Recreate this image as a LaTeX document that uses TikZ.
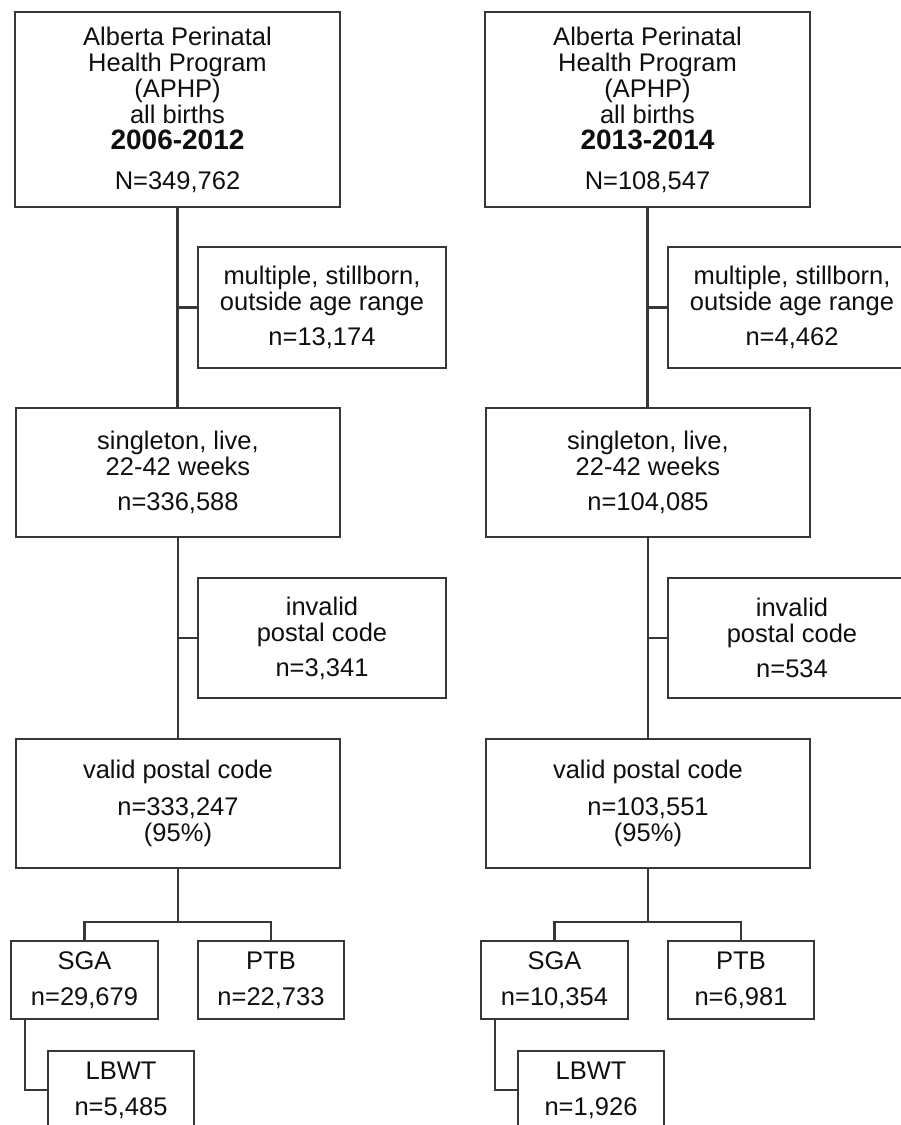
\documentclass[tikz,border=0pt]{standalone}
\usepackage{fontspec}
\setmainfont{Liberation Sans}
\usepackage{xcolor}
\usepackage{tikz}
\usetikzlibrary{positioning}
\definecolor{flowline}{RGB}{55, 55, 55}
\definecolor{flowtext}{RGB}{15, 15, 15}

\begin{document}
\begin{tikzpicture}[
    x=1pt, y=-1pt,
    every node/.style={font=\fontsize{25.5}{26}\selectfont, text=flowtext},
    box/.style={draw=flowline, line width=2.2pt, rectangle, inner sep=0pt, align=center},
    link/.style={draw=flowline, line width=2.2pt, line join=miter}
]
\useasboundingbox (0,0) rectangle (901,1125);
\clip (0,0) rectangle (901,1125);

% 2006-2012 cohort
\node[box, minimum width=325pt, minimum height=195pt] (t1) at (177.5, 109.5) {Alberta Perinatal\\Health Program\\(APHP)\\all births\\{\fontsize{28}{28}\selectfont\bfseries 2006-2012}\\[14pt]N=349,762};
\node[box, minimum width=248pt, minimum height=121pt] (x1) at (322, 307.5) {multiple, stillborn,\\outside age range\\[9pt]n=13,174};
\node[box, minimum width=324pt, minimum height=129pt] (s1) at (178, 472.5) {singleton, live,\\22-42 weeks\\[9pt]n=336,588};
\node[box, minimum width=248pt, minimum height=120pt] (i1) at (322, 638) {invalid\\postal code\\[9pt]n=3,341};
\node[box, minimum width=324pt, minimum height=129pt] (v1) at (178, 803.5) {valid postal code\\[11pt]n=333,247\\(95\%)};
\node[box, minimum width=147pt, minimum height=78pt] (g1) at (84.5, 980) {SGA\\[10pt]n=29,679};
\node[box, minimum width=146pt, minimum height=78pt] (p1) at (271, 980) {PTB\\[10pt]n=22,733};
\node[box, minimum width=146pt, minimum height=78pt] (l1) at (121, 1090) {LBWT\\[10pt]n=5,485};

% 2013-2014 cohort
\node[box, minimum width=325pt, minimum height=195pt] (t2) at (647.5, 109.5) {Alberta Perinatal\\Health Program\\(APHP)\\all births\\{\fontsize{28}{28}\selectfont\bfseries 2013-2014}\\[14pt]N=108,547};
\node[box, minimum width=248pt, minimum height=121pt] (x2) at (792, 307.5) {multiple, stillborn,\\outside age range\\[9pt]n=4,462};
\node[box, minimum width=324pt, minimum height=129pt] (s2) at (648, 472.5) {singleton, live,\\22-42 weeks\\[9pt]n=104,085};
\node[box, minimum width=248pt, minimum height=120pt] (i2) at (792, 638) {invalid\\postal code\\[9pt]n=534};
\node[box, minimum width=324pt, minimum height=129pt] (v2) at (648, 803.5) {valid postal code\\[11pt]n=103,551\\(95\%)};
\node[box, minimum width=147pt, minimum height=78pt] (g2) at (554.5, 980) {SGA\\[10pt]n=10,354};
\node[box, minimum width=146pt, minimum height=78pt] (p2) at (741, 980) {PTB\\[10pt]n=6,981};
\node[box, minimum width=146pt, minimum height=78pt] (l2) at (591, 1090) {LBWT\\[10pt]n=1,926};

% connectors
\foreach \c in {1,2} {
    \draw[link] (t\c.south) -- (t\c.south |- s\c.north);
    \draw[link] (t\c.south |- x\c.west) -- (x\c.west);
    \draw[link] (s\c.south) -- (s\c.south |- v\c.north);
    \draw[link] (s\c.south |- i\c.west) -- (i\c.west);
    \path (v\c.south) ++(0, 53) coordinate (b\c);
    \draw[link] (v\c.south) -- (b\c);
    \draw[link] (g\c.north) |- (b\c) -| (p\c.north);
    \draw[link] ([xshift=15pt]g\c.south west) |- (l\c.west);
}
\end{tikzpicture}
\end{document}
